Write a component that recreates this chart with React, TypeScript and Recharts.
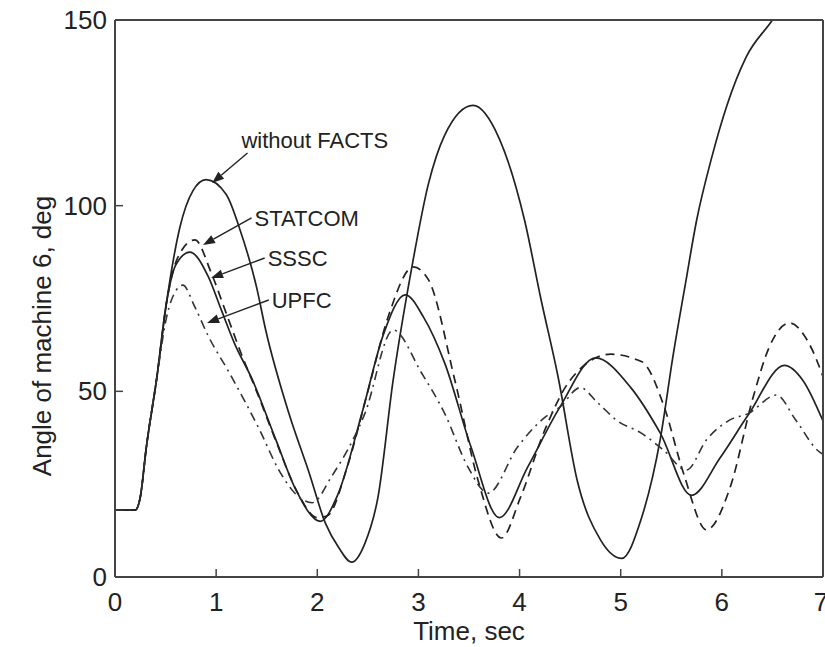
import React from "react";
import { LineChart, Line, XAxis, YAxis, ReferenceLine } from "recharts";

// time (s) / rotor angle (deg)
const tNoFacts = [0, 0.2, 0.25, 0.31, 0.41, 0.51, 0.64, 0.77, 0.9, 1.1, 1.23, 1.4, 1.49, 1.72, 1.92, 2.08, 2.21, 2.34, 2.47, 2.6, 2.75, 2.93, 3.1, 3.26, 3.54, 3.8, 4.05, 4.21, 4.38, 4.57, 4.8, 5.01, 5.2, 5.39, 5.52, 5.64, 5.75, 5.9, 6.05, 6.24, 6.5, 6.62];
const aNoFacts = [18, 18, 21.5, 35, 53, 74, 94, 104, 107, 103, 94, 78, 66.5, 44, 28, 14.5, 8, 4, 9, 21.5, 53, 82.7, 106, 119, 127, 118, 96, 75, 54, 26, 10, 5, 15.4, 37, 60, 79, 96, 113, 127, 140, 150, 155];

const tStatcom = [0, 0.2, 0.25, 0.31, 0.41, 0.51, 0.62, 0.79, 0.95, 1.1, 1.25, 1.4, 1.6, 1.8, 2.0, 2.1, 2.3, 2.5, 2.7, 2.95, 3.1, 3.36, 3.59, 3.82, 4.01, 4.25, 4.5, 4.9, 5.16, 5.23, 5.43, 5.62, 5.85, 6.08, 6.31, 6.47, 6.67, 6.86, 7];
const aStatcom = [18, 18, 21.5, 35, 53, 74, 86, 90.8, 82, 71, 60, 50, 36, 23, 16, 16.5, 30, 50, 70, 83.5, 80, 53, 26, 10.5, 21.5, 39.6, 53, 60, 58.5, 57.6, 45.8, 28, 12.7, 24, 48.5, 62, 68.4, 63, 54];

const tSssc = [0, 0.2, 0.25, 0.31, 0.41, 0.51, 0.6, 0.74, 0.92, 1.05, 1.18, 1.36, 1.59, 1.79, 2.03, 2.2, 2.45, 2.65, 2.87, 3.05, 3.26, 3.52, 3.8, 4.08, 4.4, 4.75, 5.1, 5.39, 5.7, 5.98, 6.26, 6.62, 6.8, 7];
const aSssc = [18, 18, 21.5, 35, 53, 74, 84, 87.5, 81, 72, 63, 53, 37, 23.4, 15, 22, 45, 65, 76, 70, 57.6, 35, 16, 29.6, 45.8, 59, 51, 38.8, 22, 32, 43.6, 57, 53, 42];

const tUpfc = [0, 0.2, 0.25, 0.31, 0.41, 0.51, 0.6, 0.67, 0.79, 0.92, 1.13, 1.43, 1.62, 1.82, 1.95, 2.14, 2.47, 2.75, 3.03, 3.26, 3.49, 3.69, 3.98, 4.25, 4.4, 4.6, 4.77, 4.97, 5.2, 5.43, 5.65, 5.85, 6.08, 6.26, 6.54, 6.73, 6.95, 7];
const aUpfc = [18, 18, 21.5, 35, 53, 70, 77, 78.6, 72.7, 65, 55, 39.6, 28.8, 21.5, 20, 27, 44, 66.5, 55, 44, 29.6, 22.6, 35, 43, 45.8, 51, 47, 42, 38.8, 34, 28.8, 37, 42.3, 44, 49, 42.3, 34, 33];

const xTicks = [0, 1, 2, 3, 4, 5, 6, 7];
const yTicks = [0, 50, 100, 150];

// label, arrow tail (t, deg), arrow tip (t, deg)
const notes = [
  { text: "without FACTS", from: [1.31, 114.2], to: [0.96, 106.1], dx: -6, dy: -13 },
  { text: "STATCOM", from: [1.35, 96.7], to: [0.87, 89.4], dx: 3, dy: 0 },
  { text: "SSSC", from: [1.48, 85.9], to: [0.95, 80.5], dx: 3, dy: 0 },
  { text: "UPFC", from: [1.52, 74.6], to: [0.91, 68.4], dx: 3, dy: 0 },
];

const toRows = (ts: number[], vs: number[]) => ts.map((t, i) => ({ t, v: vs[i] }));

const FONT = "'Liberation Sans', Arial, Helvetica, sans-serif";
const INK = "#222";
const AXIS = "#444";
// negative tick size -> ticks point into the plot, MATLAB style
const TICK = -8;

// tick label positions are given relative to the (inward) tick end
const BottomTick = (p: any) => (
  <text x={p.x} y={p.y + 42} textAnchor="middle" fontSize={26} fontFamily={FONT} fill={INK}>
    {p.payload.value}
  </text>
);
const LeftTick = (p: any) => (
  <text x={p.x - 16} y={p.y + 9} textAnchor="end" fontSize={26} fontFamily={FONT} fill={INK}>
    {p.payload.value}
  </text>
);

const arrowShape = (n: (typeof notes)[number]) => (p: any) => {
  const { x1, y1, x2, y2 } = p;
  const ang = Math.atan2(y2 - y1, x2 - x1);
  const L = 12, W = 4.5;
  const bx = x2 - L * Math.cos(ang), by = y2 - L * Math.sin(ang);
  const nx = -Math.sin(ang) * W, ny = Math.cos(ang) * W;
  return (
    <g>
      <line x1={x1} y1={y1} x2={bx} y2={by} stroke={INK} strokeWidth={1.4} />
      <polygon points={`${x2},${y2} ${bx + nx},${by + ny} ${bx - nx},${by - ny}`} fill={INK} />
      <text x={x1 + n.dx} y={y1 + n.dy + 8} fontSize={22} fontFamily={FONT} fill={INK}>{n.text}</text>
    </g>
  );
};

const axisLine = { stroke: AXIS, strokeWidth: 2 };
const tickLine = { stroke: AXIS, strokeWidth: 1.5 };

export default function App() {
  return (
    <div style={{ position: "absolute", left: 0, top: 0, background: "#fff" }}>
      <LineChart width={825} height={647} margin={{ top: 19, right: 1, bottom: 0, left: 0 }}>
        <XAxis xAxisId="b" type="number" dataKey="t" domain={[0, 7]} ticks={xTicks} height={70}
          tickSize={TICK} tickMargin={0} tickLine={tickLine} tick={BottomTick} axisLine={axisLine}
          label={{ content: () => (
            <text x={469} y={640} textAnchor="middle" fontSize={26} fontFamily={FONT} fill={INK}>Time, sec</text>
          ) }} />
        <XAxis xAxisId="t" orientation="top" type="number" dataKey="t" domain={[0, 7]} ticks={xTicks} height={1}
          tickSize={TICK} tickMargin={0} tickLine={tickLine} tick={false} axisLine={axisLine} />
        <YAxis yAxisId="l" type="number" domain={[0, 150]} ticks={yTicks} width={115} allowDataOverflow
          tickSize={TICK} tickMargin={0} tickLine={tickLine} tick={LeftTick} axisLine={axisLine}
          label={{ content: () => (
            <text x={51} y={336} transform="rotate(-90, 51, 336)" textAnchor="middle" fontSize={26} fontFamily={FONT} fill={INK}>
              Angle of machine 6, deg
            </text>
          ) }} />
        <YAxis yAxisId="r" orientation="right" type="number" domain={[0, 150]} ticks={yTicks} width={1} allowDataOverflow
          tickSize={TICK} tickMargin={0} tickLine={tickLine} tick={false} axisLine={axisLine} />

        {/* the unbounded case is plotted on the top/right axes (same ranges) so those edges get drawn */}
        <Line xAxisId="t" yAxisId="r" data={toRows(tNoFacts, aNoFacts)} dataKey="v" type="monotone" stroke={INK}
          strokeWidth={1.7} dot={false} isAnimationActive={false} />
        <Line xAxisId="b" yAxisId="l" data={toRows(tStatcom, aStatcom)} dataKey="v" type="monotone" stroke={INK}
          strokeWidth={1.7} strokeDasharray="9 6" dot={false} isAnimationActive={false} />
        <Line xAxisId="b" yAxisId="l" data={toRows(tSssc, aSssc)} dataKey="v" type="monotone" stroke={INK}
          strokeWidth={1.7} dot={false} isAnimationActive={false} />
        <Line xAxisId="b" yAxisId="l" data={toRows(tUpfc, aUpfc)} dataKey="v" type="monotone" stroke="#333"
          strokeWidth={1.6} strokeDasharray="9 5 2 5" dot={false} isAnimationActive={false} />

        {notes.map((n) => (
          <ReferenceLine key={n.text} xAxisId="b" yAxisId="l"
            segment={[{ x: n.from[0], y: n.from[1] }, { x: n.to[0], y: n.to[1] }]}
            ifOverflow="visible" shape={arrowShape(n)} />
        ))}
      </LineChart>
    </div>
  );
}
